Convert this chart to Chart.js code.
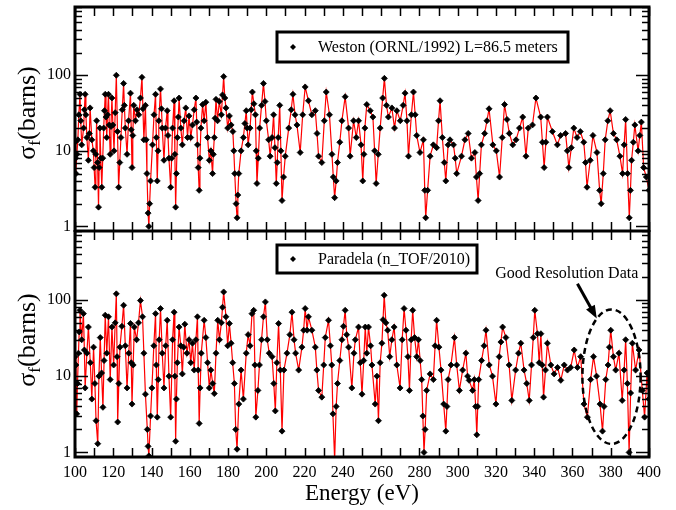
<!DOCTYPE html>
<html>
<head>
<meta charset="utf-8">
<script src="https://cdn.jsdelivr.net/npm/chart.js@4.4.1/dist/chart.umd.min.js"></script>
<style>
html, body { margin: 0; padding: 0; background: #fff; }
#wrap { position: relative; width: 676px; height: 510px; }
.panel { position: absolute; left: 0; width: 676px; }
#top { top: 0; height: 232px; }
#bot { top: 230px; height: 280px; }
</style>
</head>
<body>
<div id="wrap">
  <div class="panel" id="top"><canvas id="chartTop"></canvas></div>
  <div class="panel" id="bot"><canvas id="chartBot"></canvas></div>
</div>
<script>
// Weston (ORNL/1992) - energy (eV) and sigma_f (barns)
const westonE = [
  100.0,100.3,100.5,101.0,101.5,102.0,102.6,103.0,103.5,104.5,
  104.9,105.3,105.7,106.2,107.0,107.5,107.9,108.8,109.6,110.0,
  110.5,110.9,111.3,111.8,112.3,112.6,113.0,113.5,114.0,114.5,
  115.0,115.4,115.8,116.2,116.6,117.0,117.5,117.9,118.4,118.8,
  119.3,119.8,120.4,121.0,121.6,122.2,122.8,123.4,124.0,124.7,
  125.4,125.8,126.3,127.2,128.0,129.0,129.4,129.8,130.2,130.7,
  131.6,132.4,133.3,134.2,135.0,135.5,136.0,136.8,137.2,137.6,
  138.2,138.6,139.0,139.5,140.5,141.3,142.1,142.5,143.0,143.4,
  143.8,144.7,145.2,145.6,146.5,147.3,148.2,148.6,149.1,150.0,
  150.5,151.0,151.8,152.2,152.6,153.0,153.5,154.0,154.4,155.3,
  156.1,157.0,157.9,158.8,159.6,160.5,161.4,162.3,163.2,163.6,
  164.0,164.4,164.9,165.3,165.8,166.7,167.5,168.4,169.3,170.2,
  171.0,171.9,172.3,172.8,173.2,173.7,174.5,175.4,176.5,177.1,
  177.7,178.3,178.9,179.8,180.7,181.6,182.5,183.0,183.5,184.2,
  184.7,185.1,185.6,186.8,188.0,188.8,189.5,190.0,190.5,191.5,
  192.1,192.7,193.5,194.3,194.7,195.1,195.8,196.5,197.5,198.5,
  199.3,200.0,201.2,202.0,203.0,203.8,204.5,205.2,205.7,206.2,
  207.0,207.6,208.2,209.0,209.9,211.7,213.0,213.9,215.0,216.0,
  217.7,219.0,220.3,222.0,223.8,225.6,226.5,227.3,229.0,230.3,
  231.3,233.0,234.3,235.0,235.7,236.5,237.2,238.4,239.5,241.2,
  243.0,243.8,245.6,247.0,248.2,249.5,250.4,251.0,251.5,252.5,
  254.3,255.7,256.6,257.4,258.5,259.5,260.8,261.7,262.8,263.8,
  265.6,267.0,268.2,270.0,271.5,272.5,273.5,274.3,275.8,276.9,
  277.8,278.6,280.3,282.1,282.8,283.3,284.3,285.6,287.3,289.0,
  290.0,290.8,292.0,293.0,293.8,295.0,296.0,297.8,298.7,299.5,
  302.0,303.8,305.5,307.2,309.0,309.8,310.7,311.5,312.4,314.1,
  315.3,316.4,318.4,320.2,321.9,323.3,324.5,325.8,327.0,328.8,
  330.5,332.3,334.0,335.7,336.9,339.1,340.9,343.4,344.3,345.2,
  346.1,346.9,349.5,352.1,353.8,356.4,357.3,358.1,359.4,360.7,
  362.4,364.1,365.9,366.8,367.6,369.3,370.7,372.8,374.2,375.0,
  376.1,377.1,378.5,379.7,381.4,383.1,384.8,386.2,387.0,387.8,
  388.8,389.7,390.3,390.9,391.8,392.6,394.3,395.2,396.0,397.2,
  398.6,400.0
];
const westonSigma = [
  13,8,5,9,14,30,56,25,12,20,
  35,56,30,15,7.5,17,37,14,10,6,
  3.3,9,25,7,1.8,6,20,8,3.3,8,
  20,34,56,28,15,30,56,22,9,21,
  50,22,10,32,100,18,3.3,7,15,35,
  78,40,20,9,25,58,19,6,16,40,
  25,35,30,50,94,36,14,40,14,5,
  1.5,1.0,2,4,12,30,56,15,4,10,
  25,66,36,20,7.5,20,34,16,8,3.3,
  8,20,46,9,1.8,5,15,28,50,20,
  12,25,37,15,29,15,22,35,50,24,
  12,6,3,8,20,41,25,44,15,7.5,
  10,5,9,15,27,48,25,45,30,55,
  96,50,37,20,29,22,18,10,5,2,
  1.3,2.6,5,10,15,23,34,20,12,20,
  35,60,42,30,10,3.7,8,20,40,78,
  45,25,14,8.5,15,30,11,3.7,7,15,
  40,10,2.2,4.5,8.5,20,35,56,30,22,
  9.5,30,70,46,30,34,17,8.5,7,25,
  60,30,9,4.5,2.4,4,7,13,25,52,
  20,8.5,25,15,25,12,4,9,20,41,
  34,28,10,3.7,9,20,50,91,40,28,
  37,20,34,25,40,58,25,8.5,30,60,
  30,16,9.5,14,3,1.3,3,8.5,12,11,
  25,46,15,7,4,12,14,12,8,5,
  8.5,14,17,8,9.5,4.5,2.2,5,12,17,
  25,36,12,10,4.5,15,41,26,17,12,
  14,20,28,8.5,20,22,50,28,13,6,
  13,28,18,12,16,17,10,6,11,20,
  15,18,13,7,3.3,7.5,16,9.5,3,2.0,
  5,14,25,34,17,14,8.5,5,12,26,
  5,1.3,3,7.5,13,22,10,16,24,6,
  4.5,3
];

// Paradela (n_TOF/2010) - energy (eV) and sigma_f (barns)
const paradelaE = [
  100.0,100.5,100.9,101.3,101.8,102.2,102.6,103.5,104.4,104.9,
  105.3,106.2,107.0,108.0,108.8,109.7,110.4,111.0,111.9,112.5,
  113.2,113.9,114.6,115.2,115.8,116.6,117.5,118.4,119.3,120.2,
  121.0,121.6,122.0,122.3,122.9,123.5,124.5,125.4,126.3,127.2,
  128.1,129.0,129.4,129.8,130.4,131.0,132.2,133.2,134.2,135.3,
  136.0,136.8,137.8,138.2,138.6,139.5,140.2,141.2,142.1,142.5,
  143.0,143.5,144.0,144.7,145.6,146.5,147.4,148.2,149.1,150.0,
  151.0,151.8,152.2,152.6,153.0,153.5,154.4,155.3,156.1,156.8,
  157.4,158.5,159.6,160.5,161.4,162.3,163.2,164.0,164.4,164.9,
  165.4,166.0,167.5,168.4,169.3,170.2,171.0,172.0,172.8,173.7,
  174.6,175.5,176.5,177.1,177.7,178.9,179.8,180.7,181.6,182.4,
  183.3,184.0,184.7,185.6,186.8,188.0,189.5,190.5,191.5,192.5,
  193.4,194.0,194.5,195.6,196.4,197.5,198.5,199.5,200.5,201.5,
  203.0,203.9,204.7,205.5,206.4,207.3,208.2,209.2,210.8,212.3,
  213.4,214.5,215.3,216.9,218.6,219.5,220.3,221.3,222.0,223.8,
  225.6,226.4,227.3,229.0,230.0,230.8,232.5,233.5,234.2,234.8,
  235.7,236.5,237.2,238.4,239.5,240.3,241.2,242.0,243.0,244.7,
  245.8,246.5,248.2,249.1,250.0,250.9,251.7,252.5,253.4,254.5,
  255.2,256.9,257.8,258.6,259.5,260.4,261.0,261.6,262.5,263.4,
  264.5,265.6,266.8,268.2,269.9,271.0,272.0,273.0,274.0,274.8,
  275.7,276.5,277.5,278.6,279.5,280.4,281.2,281.8,282.4,283.0,
  283.8,285.6,287.3,288.2,289.0,290.2,291.3,292.7,293.8,294.4,
  295.0,296.5,298.3,299.5,300.9,302.6,304.3,305.2,306.0,307.8,
  308.7,309.4,310.0,310.5,311.0,312.5,313.8,314.8,316.5,318.2,
  320.0,321.7,322.6,323.5,325.2,326.9,328.3,330.3,331.8,333.0,
  334.7,336.1,337.4,338.6,339.5,340.3,341.7,342.6,343.5,344.2,
  344.9,345.9,346.9,348.7,350.4,352.2,353.9,355.7,357.4,359.1,
  360.9,362.6,364.3,366.0,367.8,369.5,371.0,372.6,374.4,375.7,
  376.5,377.4,378.6,379.3,380.0,381.4,382.6,384.3,386.0,387.0,
  387.8,388.7,389.6,390.4,391.3,393.0,394.8,396.5,397.7,399.0,
  400.0
];
const paradelaSigma = [
  18,14,3.2,8,20,38,73,30,66,22,
  7,20,44,15,5,24,8,2.6,1.3,10,
  32,11,3.9,16,63,20,60,9,44,14,
  50,120,18,2.5,8,24,45,85,25,7,
  20,49,15,4.3,14,44,30,50,98,60,
  20,5.8,2,1.2,0.9,3,7,25,66,14,
  2.9,9,30,77,20,7,25,54,10,2.9,
  30,69,10,1.4,5,15,44,25,10.7,24,
  48,20,30,15,27,12,30,60,12,2.4,
  7,20,54,32,15,7,12,8,5.9,20,
  54,30,50,80,127,60,25,49,27,15,
  8,2,1.1,4.3,12,5,20,35,25,66,
  73,14,2.9,6.5,14,30,60,94,30,20,
  18,8,3.5,15,49,12,1.9,12,20,35,
  69,30,20,12,24,40,77,40,60,40,
  24,12,6.5,5.3,14,32,54,25,14,3.2,
  0.8,4,8,16,30,45,73,35,24,7,
  20,30,44,15,5.8,16,44,20,44,25,
  14,4.3,10,2.6,15,27,55,115,50,40,
  18,30,44,14,7,30,77,40,18,6.5,
  30,73,32,18,30,16,9,3,1.0,2,
  6.5,10.7,9,25,54,24,12,4.3,1.9,4,
  9,14,32,14,6.5,12,20,10,8.8,6.5,
  9,4,1.7,4,9,16,25,40,14,10,
  4.3,18,28,44,32,14,4.8,12,20,27,
  12,8,4.8,14,32,73,36,15,36,14,
  5.3,12,27,14,10.7,13,8.8,14,12,13,
  22,13,18,4.3,2.9,9,18,10,4.3,1.9,
  4,9,14,24,40,18,12,20,4.8,12,
  30,8,1.0,6,27,12,22,6.5,2.9,11,
  5
];

// axis ticks
const xLabels = [100,120,140,160,180,200,220,240,260,280,300,320,340,360,380,400];
const xMarks = [100,110,120,130,140,150,160,170,180,190,200,210,220,230,240,250,260,270,280,290,300,310,320,330,340,350,360,370,380,390,400];
const yLabels = [1,10,100];
const yMarks = [1,2,3,4,5,6,7,8,9,10,20,30,40,50,60,70,80,90,100,200,300,400,500,600,700,800];

const serif = "'Liberation Serif', 'Times New Roman', serif";

// inward ticks on all four sides plus the thick frame
const frameTicks = {
  id: 'frameTicks',
  afterDraw(chart) {
    const {ctx, chartArea: a, scales: {x, y}} = chart;
    ctx.save();
    ctx.strokeStyle = '#000';
    ctx.lineWidth = 1.5;
    ctx.beginPath();
    xMarks.forEach(v => {
      const px = Math.round(x.getPixelForValue(v)) + 0.5;
      ctx.moveTo(px, a.top); ctx.lineTo(px, a.top + 9);
      ctx.moveTo(px, a.bottom); ctx.lineTo(px, a.bottom - 9);
    });
    yMarks.forEach(v => {
      const py = Math.round(y.getPixelForValue(v)) + 0.5;
      const len = yLabels.includes(v) ? 13 : 7;
      ctx.moveTo(a.left, py); ctx.lineTo(a.left + len, py);
      ctx.moveTo(a.right, py); ctx.lineTo(a.right - len, py);
    });
    ctx.stroke();
    ctx.lineWidth = 3;
    ctx.strokeRect(a.left, a.top, a.right - a.left, a.bottom - a.top);
    ctx.restore();
  }
};

// framed legend box and the rotated y title with subscript f
const panelText = {
  id: 'panelText',
  afterDraw(chart, args, opts) {
    const ctx = chart.ctx;
    const b = opts.box;
    ctx.save();
    ctx.fillStyle = '#fff';
    ctx.fillRect(b[0], b[1], b[2] - b[0], b[3] - b[1]);
    ctx.strokeStyle = '#000';
    ctx.lineWidth = 3;
    ctx.strokeRect(b[0], b[1], b[2] - b[0], b[3] - b[1]);
    const cy = (b[1] + b[3]) / 2;
    ctx.fillStyle = '#000';
    ctx.beginPath();
    ctx.moveTo(b[0] + 16, cy - 3); ctx.lineTo(b[0] + 19, cy); ctx.lineTo(b[0] + 16, cy + 3); ctx.lineTo(b[0] + 13, cy);
    ctx.closePath(); ctx.fill();
    ctx.font = '16px ' + serif;
    ctx.textBaseline = 'middle';
    ctx.textAlign = 'left';
    ctx.fillText(chart.data.datasets[0].label, b[0] + 41, cy + 1);

    // y title
    ctx.translate(28, opts.titleY);
    ctx.rotate(-Math.PI / 2);
    ctx.textBaseline = 'middle';
    ctx.font = '26px ' + serif;
    const w1 = ctx.measureText('\u03c3').width;
    ctx.font = '17px ' + serif;
    const w2 = ctx.measureText('f').width;
    ctx.font = '26px ' + serif;
    const w3 = ctx.measureText('(barns)').width;
    let x0 = -(w1 + w2 + w3) / 2;
    ctx.fillText('\u03c3', x0, 0);
    ctx.font = '17px ' + serif;
    ctx.fillText('f', x0 + w1, 8);
    ctx.font = '26px ' + serif;
    ctx.fillText('(barns)', x0 + w1 + w2, 0);
    ctx.restore();
  }
};

// "Good Resolution Data" note with arrow and dashed ellipse (bottom panel)
const resolutionNote = {
  id: 'resolutionNote',
  afterDraw(chart) {
    const {ctx, scales: {x, y}} = chart;
    ctx.save();
    const cx = x.getPixelForValue(380.4);
    const top = y.getPixelForValue(75), bot = y.getPixelForValue(1.29);
    const rx = x.getPixelForValue(395.6) - cx;
    ctx.strokeStyle = '#000';
    ctx.lineWidth = 2.5;
    ctx.setLineDash([6, 4]);
    ctx.beginPath();
    ctx.ellipse(cx, (top + bot) / 2, rx, (bot - top) / 2, 0, 0, Math.PI * 2);
    ctx.stroke();
    ctx.setLineDash([]);

    const x1 = x.getPixelForValue(362.6), y1 = y.getPixelForValue(163);
    const x2 = x.getPixelForValue(372.7), y2 = y.getPixelForValue(57);
    const ang = Math.atan2(y2 - y1, x2 - x1);
    ctx.lineWidth = 3;
    ctx.beginPath();
    ctx.moveTo(x1, y1);
    ctx.lineTo(x2 - 10 * Math.cos(ang), y2 - 10 * Math.sin(ang));
    ctx.stroke();
    ctx.fillStyle = '#000';
    ctx.beginPath();
    ctx.moveTo(x2, y2);
    ctx.lineTo(x2 - 13 * Math.cos(ang) + 5 * Math.sin(ang), y2 - 13 * Math.sin(ang) - 5 * Math.cos(ang));
    ctx.lineTo(x2 - 13 * Math.cos(ang) - 5 * Math.sin(ang), y2 - 13 * Math.sin(ang) + 5 * Math.cos(ang));
    ctx.closePath();
    ctx.fill();

    ctx.font = '16px ' + serif;
    ctx.textAlign = 'center';
    ctx.textBaseline = 'middle';
    ctx.fillText('Good Resolution Data', x.getPixelForValue(357), y.getPixelForValue(222));
    ctx.restore();
  }
};

function dataset(label, es, vs) {
  return {
    label: label,
    data: es.map((e, i) => ({x: e, y: vs[i]})),
    borderColor: '#ff0000',
    borderWidth: 1.2,
    pointStyle: 'rectRot',
    pointRadius: 3,
    pointBackgroundColor: '#000',
    pointBorderColor: '#000',
    pointBorderWidth: 0.8,
    tension: 0
  };
}

function yAxis() {
  return {
    type: 'logarithmic',
    min: 0.87,
    max: 800,
    grid: {display: false, drawTicks: false},
    border: {display: false},
    afterBuildTicks: s => { s.ticks = yLabels.map(v => ({value: v})); },
    afterFit: s => { s.width = 75; s.paddingTop = 0; s.paddingBottom = 0; },
    ticks: {
      autoSkip: false,
      padding: 4,
      color: '#000',
      font: {family: serif, size: 16},
      callback: v => String(v)
    }
  };
}

new Chart(document.getElementById('chartTop'), {
  type: 'line',
  data: {datasets: [dataset('Weston (ORNL/1992) L=86.5 meters', westonE, westonSigma)]},
  options: {
    responsive: true,
    maintainAspectRatio: false,
    animation: false,
    layout: {autoPadding: false, padding: {top: 7, bottom: 1, left: 0, right: 27}},
    plugins: {
      legend: {display: false},
      tooltip: {enabled: false},
      panelText: {box: [277, 32, 568, 62], titleY: 113}
    },
    scales: {
      x: {type: 'linear', min: 100, max: 400, display: false},
      y: yAxis()
    }
  },
  plugins: [frameTicks, panelText]
});

new Chart(document.getElementById('chartBot'), {
  type: 'line',
  data: {datasets: [dataset('Paradela (n_TOF/2010)', paradelaE, paradelaSigma)]},
  options: {
    responsive: true,
    maintainAspectRatio: false,
    animation: false,
    layout: {autoPadding: false, padding: {top: 1, bottom: 0, left: 0, right: 27}},
    plugins: {
      legend: {display: false},
      tooltip: {enabled: false},
      panelText: {box: [277, 15, 477, 43], titleY: 110}
    },
    scales: {
      x: {
        type: 'linear',
        min: 100,
        max: 400,
        grid: {display: false, drawTicks: false},
        border: {display: false},
        afterBuildTicks: s => { s.ticks = xLabels.map(v => ({value: v})); },
        afterFit: s => { s.height = 53; s.paddingLeft = 0; s.paddingRight = 0; },
        ticks: {autoSkip: false, maxRotation: 0, padding: 6, color: '#000', font: {family: serif, size: 16}},
        title: {display: true, text: 'Energy (eV)', color: '#000', font: {family: serif, size: 23}, padding: {top: 0, bottom: 2}}
      },
      y: yAxis()
    }
  },
  plugins: [frameTicks, panelText, resolutionNote]
});
</script>
</body>
</html>
